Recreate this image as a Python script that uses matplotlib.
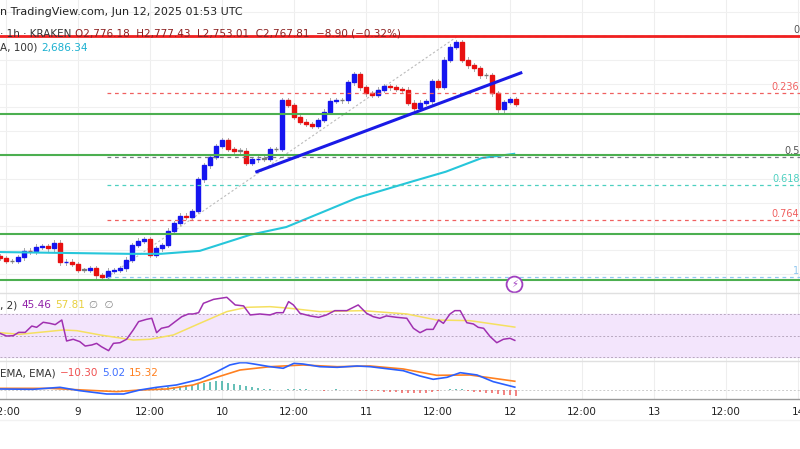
import matplotlib
matplotlib.use("Agg")
import matplotlib.pyplot as plt
import numpy as np
from matplotlib.patches import Rectangle

# ---- data (hours since Jun 8 00:00 UTC) ----
closes = [2507,2502,2502,2508,2519,2518,2526,2527,2523,2533,
          2500,2501,2497,2487,2487,2490,2478,2475,2486,2487,
          2490,2504,2529,2536,2539,2512,2523,2529,2553,2566,
          2578,2576,2586,2639,2663,2677,2695,2705,2690,2687,
          2687,2667,2673,2674,2674,2690,2690,2772,2764,2744,
          2736,2732,2729,2739,2753,2771,2772,2772,2802,2816,
          2794,2784,2781,2790,2796,2794,2791,2790,2768,2759,
          2768,2770,2804,2795,2840,2862,2870,2840,2831,2826,
          2814,2814,2784,2757,2769,2774,2766]
first_open = 2510
last_hour = 97

ema_h = [11,32.5,37.8,44.3,52.7,58.7,64.5,70.5,79.5,85.3,91.3,96.7]
ema_v = [2517,2514,2514,2519,2546,2559,2583,2608,2635,2652,2675,2682]

green_levels = [2749,2680,2547,2470]
top_red = 2880
fib_hi, fib_lo = 2880, 2475
fib_ratios = [0, 0.236, 0.5, 0.618, 0.764, 1]
fib_labels = ["0", "0.236", "0.5", "0.618", "0.764", "1"]
trend_h = [53.8, 97.8]
trend_v = [2652, 2818]

rsi_h = [11.0,12.1,13.2,14.1,15.2,16.3,17.1,18.2,19.3,20.2,21.3,22.1,23.2,24.3,25.2,26.3,27.1,27.9,29.1,29.9,
         31.0,32.1,33.2,34.1,35.4,36.3,37.1,37.9,39.1,40.2,41.3,42.4,43.2,44.1,44.9,46.6,48.8,49.3,50.2,51.6,
         52.7,54.3,56.0,57.1,58.2,59.1,59.9,61.0,62.7,64.1,65.4,66.8,68.8,70.7,72.1,73.2,74.3,75.4,77.1,78.8,
         79.9,81.0,82.1,83.2,84.1,84.9,86.0,86.8,87.7,88.8,89.9,90.7,91.6,92.7,93.8,94.9,96.0,96.8]
rsi_v = [52.0,49.5,49.8,52.9,52.9,58.8,57.6,62.3,61.3,60.1,64.4,44.9,46.5,44.3,40.2,41.2,42.7,39.6,35.9,42.7,
         43.3,46.5,55.1,62.9,65.0,66.0,52.6,56.7,58.2,62.9,67.5,70.0,70.0,71.2,79.9,83.6,85.5,83.0,78.4,77.5,
         69.1,70.0,69.1,71.2,71.2,81.5,78.4,70.6,68.2,66.9,69.1,73.1,73.1,78.4,70.6,67.5,66.0,68.2,66.9,66.0,
         56.7,52.6,55.7,55.7,64.4,61.3,70.0,73.1,73.1,61.9,60.7,57.6,56.7,48.9,43.3,46.5,47.4,45.46]
rsima_h = [11,14.3,21.5,23.8,27.7,33.2,36,39.9,44.3,48.8,52.1,56,59.3,64.3,71.5,78.8,83.8,89.3,96.8]
rsima_v = [52.6,51.1,55.1,54.5,50.5,45.8,46.5,50.5,61.3,72.2,76.2,76.8,75.3,72.2,73.1,70.0,64.4,63.8,57.81]

macd_h = [11,16.5,21,24.3,28.8,31.6,34.3,37.1,40.4,44.3,47.1,49.3,51,52,56,58.2,60,61.5,64.3,67.2,70.5,72.7,
          78.2,81,83.2,85.5,87.7,90.5,93.2,96.8]
macd_v = [1.75,1.2,4.7,-1.2,-7,-7,0,4.7,8.8,18.7,31.9,43.8,47.8,47.8,40.8,38,46.7,45.5,40.8,39.7,42,40.8,
          33.8,24.5,18.7,22.2,30.3,26.3,14.6,5.02]
sig_h = [11,19.3,24.8,30.5,34.3,38.8,43.2,47.1,51,56,61.5,67.2,72.7,78.2,83.8,89.3,96.8]
sig_v = [2.9,2.9,0,-2.9,0,1.75,8.8,22.2,35,40.8,43.8,40.8,42,36.8,25.7,26.3,15.32]
hist_v = [0.3,0.2,-0.2,0.3,0.5,0.4,0.6,0.8,0.7,0.5,0.3,-0.3,-0.5,-0.8,-0.6,-0.4,-0.2,-0.5,-0.3,0.2,
          0.4,0.6,0.8,0.5,1,2,3,4,5,6,7,8,9,10,12,14,16,15,13,11,9,7,5,3,2,1,0.5,-0.5,1,2,
          1.5,1,0.5,-0.5,-1,0.5,1,-0.5,-0.5,0.5,-1,-1.5,-2,-2.5,-3,-3.5,-4,-4.5,-5,-5.5,-6,-5,-3,-1,
          0,1,2,1,-1,-3,-4,-5,-6,-7,-8,-9,-10.3]

tick_hours = [12,24,36,48,60,72,84,96,108,120,132,144]
tick_labels = ["12:00","9","12:00","10","12:00","11","12:00","12","12:00","13","12:00","14"]

# ---- layout helpers ----
W, H = 800, 449
fig = plt.figure(figsize=(8, 4.49), dpi=100)
fig.patch.set_facecolor("white")
XL = (96 - 510/6, 96 + 290/6)

def ax_px(top, bottom):
    return fig.add_axes([0, 1 - bottom/H, 1, (bottom - top)/H])

def style(ax):
    ax.set_xlim(*XL)
    ax.set_facecolor("none")
    for s in ax.spines.values():
        s.set_visible(False)
    ax.set_yticks([])
    ax.tick_params(length=0)
    for th in tick_hours:
        ax.axvline(th, color="#eeeeee", lw=0.8, zorder=0)

main = ax_px(0, 293)
style(main)
main.set_ylim(2448.2, 2940.5)
main.set_xticks([])
for p in range(2480, 2940, 40):
    main.axhline(p, color="#f0f0f0", lw=0.8, zorder=0)

hours = np.arange(last_hour - len(closes) + 1, last_hour + 1)
opens = [first_open] + closes[:-1]
for h, o, c in zip(hours, opens, closes):
    col = "#1515f0" if c > o else ("#e81010" if c < o else "#777777")
    lo, hi = min(o, c), max(o, c)
    main.plot([h, h], [lo - 4, hi + 4], color="#aaaaaa", lw=0.7, zorder=2)
    main.add_patch(Rectangle((h - 0.32, lo), 0.64, max(hi - lo, 0.8), color=col, zorder=3))

main.plot(ema_h, ema_v, color="#26c6da", lw=1.5, zorder=4)
main.axhline(top_red, color="#f02020", lw=2, zorder=5)
for g in green_levels:
    main.axhline(g, color="#4caf50", lw=1.5, zorder=5)

fib_cols = ["#888888", "#f06060", "#787b86", "#4dd0c0", "#f06060", "#90c8f0"]
fib_start = 96 + (107 - 510)/6
for r, lab, col in zip(fib_ratios, fib_labels, fib_cols):
    lvl = fib_hi - r*(fib_hi - fib_lo)
    main.plot([fib_start, XL[1]], [lvl, lvl], ls=(0, (3, 3)), color=col, lw=0.9, zorder=4)
    main.text(XL[1] - 0.1, lvl + 10, lab, color="#555555" if col in ("#888888", "#787b86") else col,
              fontsize=7, ha="right", va="center", clip_on=False)
main.plot([fib_start, 96 + (458 - 510)/6], [fib_lo, fib_hi], ls=(0, (2, 2)), color="#bbbbbb", lw=0.8, zorder=2)
main.plot(trend_h, trend_v, color="#1a1ae6", lw=2.2, zorder=6)

# lightning icon
main.scatter([96.7], [2464], s=130, facecolor="white", edgecolor="#a040c0", lw=1.3, zorder=7)
main.text(96.7, 2464, "⚡", color="#a040c0", fontsize=7, ha="center", va="center", zorder=8)

fig.canvas.draw()
renderer = fig.canvas.get_renderer()

def seq(ax_y, parts, fs=7.5):
    x = 0
    for txt, col in parts:
        t = fig.text(x / W, 1 - ax_y / H, txt, color=col, fontsize=fs, va="center", ha="left")
        x += t.get_window_extent(renderer=renderer).width + 4

seq(12, [("n TradingView.com, Jun 12, 2025 01:53 UTC", "#222222")], fs=8)
seq(34, [("· 1h · KRAKEN", "#333333"), ("O2,776.18  H2,777.43  L2,753.01  C2,767.81  −8.90 (−0.32%)", "#8b2020")])
seq(48, [("A, 100)", "#333333"), ("2,686.34", "#1ab0d0")])

# RSI pane
rsi = ax_px(293, 361)
style(rsi)
rsi.set_xticks([])
rsi.set_ylim(26.3, 89.5)
rsi.axhspan(30, 70, color="#f3e5fc", zorder=0)
for lv in (30, 50, 70):
    rsi.axhline(lv, color="#b8a8c0", ls=(0, (2, 2)), lw=0.7, zorder=1)
rsi.plot(rsima_h, rsima_v, color="#f5e060", lw=1.1, zorder=3)
rsi.plot(rsi_h, rsi_v, color="#a030b0", lw=1.1, zorder=4)
seq(305, [(", 2)", "#333333"), ("45.46", "#9020a8"), ("57.81", "#e8d040"), ("∅  ∅", "#888888")])

# MACD pane
md = ax_px(361, 399)
style(md)
md.set_ylim(-15.75, 50.75)
md.axhline(0, color="#cccccc", ls=(0, (2, 2)), lw=0.7)
hh = np.arange(11, 11 + len(hist_v))
md.bar(hh, hist_v, width=0.2, color=["#26a69a" if v > 0 else "#ef5350" for v in hist_v], zorder=2, alpha=0.7)
md.plot(sig_h, sig_v, color="#ff8020", lw=1.2, zorder=3)
md.plot(macd_h, macd_v, color="#2a60ff", lw=1.2, zorder=4)
seq(373, [("EMA, EMA)", "#333333"), ("−10.30", "#f05050"), ("5.02", "#4070ff"), ("15.32", "#ff8020")])

md.set_xticks(tick_hours)
md.set_xticklabels(tick_labels, fontsize=7.5, color="#222222")
md.tick_params(axis="x", pad=6)
fig.add_artist(plt.Line2D([0, 1], [1 - 293/H] * 2, color="#e0e0e0", lw=1))
fig.add_artist(plt.Line2D([0, 1], [1 - 361/H] * 2, color="#e0e0e0", lw=1))
fig.add_artist(plt.Line2D([0, 1], [1 - 399/H] * 2, color="#999999", lw=1))
fig.add_artist(plt.Line2D([0, 1], [1 - 420/H] * 2, color="#f2f2f2", lw=1))

fig.savefig("out.png", dpi=100)
